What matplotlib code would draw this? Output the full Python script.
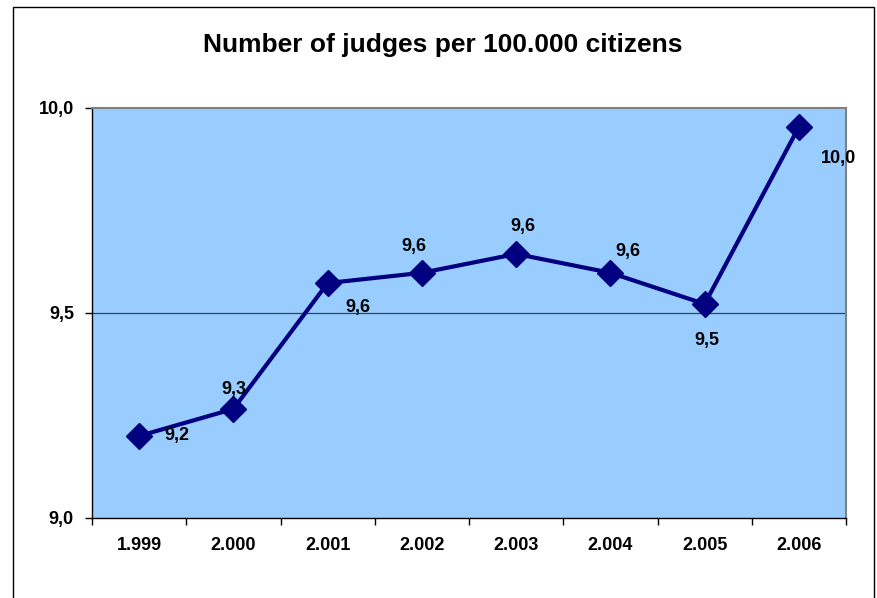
import matplotlib
matplotlib.use('Agg')
import matplotlib.pyplot as plt
from matplotlib.patches import Rectangle

plt.rcParams['font.family'] = ['Liberation Sans', 'DejaVu Sans']

# data
years = ['1.999', '2.000', '2.001', '2.002', '2.003', '2.004', '2.005', '2.006']
judges = [9.20, 9.266, 9.573, 9.598, 9.644, 9.598, 9.522, 9.954]
yticks = [9.0, 9.5, 10.0]

# where each value label sits relative to its point (pixels)
label_offsets = [(38, 0), (0, 19), (30, -24), (-8, 26), (7, 27), (17, 21), (2, -37), (40, -32)]

fig = plt.figure(figsize=(8.77, 5.98), dpi=100)
ax = fig.add_axes([0.1049, 0.1338, 0.8598, 0.6856])
ax.set_facecolor('#99CCFF')

x = list(range(len(years)))
ax.plot(x, judges, color='#000080', linewidth=3, marker='D', markersize=13,
        markeredgecolor='#000080', markerfacecolor='#000080', zorder=3)

for xi, v, off in zip(x, judges, label_offsets):
    ax.annotate(f'{v:.1f}'.replace('.', ','), (xi, v), xytext=off,
                textcoords='offset pixels', ha='center', va='center',
                fontsize=13, fontweight='bold', annotation_clip=False, zorder=4)

ax.set_xlim(-0.5, len(years) - 0.5)
ax.set_ylim(9.0, 10.0)

# category boundaries get the tick marks, centers get the labels
ax.set_xticks([i - 0.5 for i in range(len(years) + 1)])
ax.set_xticklabels([])
ax.set_xticks(x, minor=True)
ax.set_xticklabels(years, minor=True, fontsize=13, fontweight='bold')
ax.tick_params(axis='x', which='major', direction='out', length=5, width=1)
ax.tick_params(axis='x', which='minor', length=0, pad=14)

ax.set_yticks(yticks)
ax.set_yticklabels([f'{t:.1f}'.replace('.', ',') for t in yticks], fontsize=13, fontweight='bold')
ax.tick_params(axis='y', direction='out', length=5, width=1, pad=8)

ax.axhline(9.5, color='#404040', linewidth=0.9, zorder=1)

ax.spines['top'].set_color('#808080')
ax.spines['right'].set_color('#808080')
ax.spines['top'].set_linewidth(1.5)
ax.spines['right'].set_linewidth(1.5)
ax.spines['left'].set_linewidth(1)
ax.spines['bottom'].set_linewidth(1)

fig.text(0.505, 0.925, 'Number of judges per 100.000 citizens', ha='center', va='center',
         fontsize=19, fontweight='bold')

# outer chart frame
fig.patches.append(Rectangle((0.0148, -0.1), 0.9818, 1.088, transform=fig.transFigure,
                             fill=False, edgecolor='black', linewidth=1, clip_on=False))

fig.savefig('out.png', dpi=100)
